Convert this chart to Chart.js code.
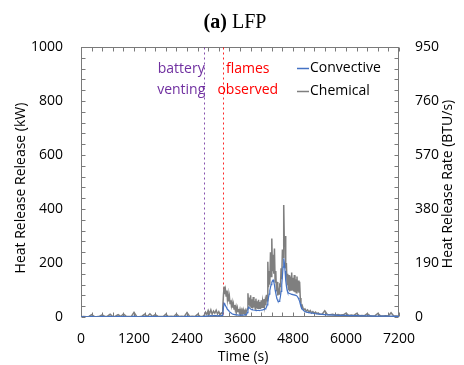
<!DOCTYPE html>
<html>
<head>
<meta charset="utf-8">
<script src="https://cdn.jsdelivr.net/npm/chart.js@4/dist/chart.umd.min.js"></script>
<style>
  html, body { margin: 0; padding: 0; background: #fff; }
  canvas { display: block; }
</style>
</head>
<body>
<canvas id="hrr" width="464" height="365"></canvas>
<script>
// Time stamps of the heat release record (s)
const timeSeconds = [
  0,60,120,180,240,300,360,420,480,540,
  600,660,720,780,840,900,960,1020,1080,1140,
  1200,1260,1320,1380,1440,1500,1560,1620,1680,1740,
  1800,1860,1920,1980,2040,2100,2160,2220,2280,2340,
  2400,2460,2520,2580,2640,2700,2760,
  2790,2820,2850,2880,2910,2940,2970,3000,3030,3060,
  3090,3120,3150,3180,
  3195,3210,3225,3240,3255,3270,3285,3300,3315,3330,
  3345,3360,3375,3390,3405,3420,3435,3450,3465,3480,
  3495,3510,3525,3540,3555,3570,3585,3600,3615,3630,
  3645,3660,3675,3690,3705,3720,3735,3750,3765,3780,
  3795,3810,3825,3840,3855,3870,3885,3900,3915,3930,
  3945,3960,3975,3990,4005,4020,4035,4050,4065,4080,
  4095,4110,4125,4140,4155,4170,4185,4200,4215,4230,
  4245,4260,4275,4290,4305,4320,4335,4350,4365,4380,
  4395,4410,4425,4440,4455,4470,4485,4500,4515,4530,
  4545,4560,4575,4590,4605,4620,4635,4650,4665,4680,
  4695,4710,4725,4740,4755,4770,4785,4800,4815,4830,
  4845,4860,4875,4890,4905,4920,4935,4950,4965,4980,
  4995,5010,
  5040,5070,5100,5130,5160,5190,5220,5250,5280,5310,
  5340,5370,5400,
  5460,5520,5580,5640,5700,5760,5820,5880,5940,6000,
  6060,6120,6180,6240,6300,6360,6420,6480,6540,6600,
  6660,6720,6780,6840,6900,6960,7020,7080,7140,7200
];

// Chemical heat release rate (kW)
const chemicalKW = [
  1,2,1,2,9,2,1,3,8,2,
  3,10,2,3,9,2,11,3,2,2,
  17,2,1,3,10,2,12,2,9,3,
  2,2,10,2,3,2,11,2,3,2,
  16,2,3,2,10,2,3,
  6,18,9,24,12,26,10,22,14,25,
  11,20,9,15,
  12,35,80,113,85,100,78,98,65,84,
  58,76,50,62,42,55,35,48,30,44,
  26,38,22,34,20,30,17,28,15,25,
  14,24,13,22,14,24,15,22,30,88,
  45,72,38,80,36,66,32,74,35,60,
  30,68,34,58,30,64,32,56,30,62,
  34,58,36,66,40,60,44,82,60,205,
  110,170,120,240,150,291,170,230,160,254,
  130,170,95,130,80,100,85,125,110,180,
  140,250,220,415,260,300,180,200,120,160,
  100,155,95,150,100,165,98,145,95,155,
  92,140,90,150,95,135,90,130,70,48,
  36,42,
  26,30,22,26,18,24,15,20,14,18,
  12,15,11,
  10,23,9,8,10,7,9,7,8,14,
  6,7,6,13,5,6,5,12,5,4,
  5,13,4,4,5,4,16,4,4,3
];

// Convective heat release rate (kW)
const convectiveKW = [
  1,1,1,1,2,1,1,1,2,1,
  1,2,1,1,2,1,2,1,1,1,
  3,1,1,1,2,1,2,1,2,1,
  1,1,2,1,1,1,2,1,1,1,
  3,1,1,1,2,1,1,
  2,3,3,4,4,5,4,5,5,5,
  4,5,4,5,
  5,10,35,51,48,42,38,33,29,26,
  23,20,18,16,14,12,11,10,10,9,
  9,8,8,8,7,7,7,7,7,7,
  7,7,7,7,8,8,9,10,16,30,
  36,34,32,30,28,27,27,26,26,25,
  25,24,24,24,24,25,24,24,25,25,
  26,26,27,28,29,30,33,36,45,60,
  72,85,98,110,120,128,134,137,130,118,
  100,88,76,66,60,57,58,62,75,95,
  120,150,185,217,200,170,135,115,100,92,
  90,88,87,86,85,84,84,83,82,82,
  81,80,79,78,74,70,64,58,48,40,
  34,30,
  24,20,18,17,16,15,14,14,13,12,
  12,11,11,
  10,9,8,8,7,7,6,6,6,6,
  5,5,5,5,4,4,4,4,4,3,
  3,3,3,3,3,3,3,2,2,2
];

const seriesNames = ['Convective', 'Chemical'];
const timeTicks = [0, 1200, 2400, 3600, 4800, 6000, 7200];
const kwTicks = [0, 200, 400, 600, 800, 1000];
const btuTicks = [0, 190, 380, 570, 760, 950];

// Observed events during the test (s)
const eventTimes = [2790, 3210];
const eventLabels = [['battery', 'venting'], ['flames', 'observed']];
const eventColors = ['#7030A0', '#FF0000'];

const UI_FONT = "'Open Sans', 'Noto Sans', sans-serif";
const TEXT_COLOR = '#000000';
const FRAME_COLOR = '#7a7a7a';
const MINOR_TIME_STEP = 240;
const MINOR_KW_STEP = 40;

const frameAndNotes = {
  id: 'frameAndNotes',
  beforeDatasetsDraw(chart) {
    const { ctx, chartArea: a, scales } = chart;
    const L = Math.round(a.left) + 0.5, R = Math.round(a.right) - 0.5;
    const T = Math.round(a.top) + 0.5, B = Math.round(a.bottom) - 0.5;
    ctx.save();
    ctx.strokeStyle = FRAME_COLOR;
    ctx.lineWidth = 1;
    ctx.strokeRect(L, T, R - L, B - T);
    ctx.beginPath();
    for (let v = 0; v <= 7200; v += MINOR_TIME_STEP) {
      const x = Math.round(scales.x.getPixelForValue(v)) + 0.5;
      ctx.moveTo(x, T); ctx.lineTo(x, T + 4);
      ctx.moveTo(x, B); ctx.lineTo(x, B - 4);
    }
    for (let v = 0; v <= 1000; v += MINOR_KW_STEP) {
      const y = Math.round(scales.y.getPixelForValue(v)) + 0.5;
      ctx.moveTo(L, y); ctx.lineTo(L + 4, y);
      ctx.moveTo(R, y); ctx.lineTo(R - 4, y);
    }
    ctx.stroke();

    // event markers
    eventTimes.forEach((t, i) => {
      const x = Math.round(scales.x.getPixelForValue(t)) + 0.5;
      ctx.beginPath();
      ctx.strokeStyle = eventColors[i];
      ctx.globalAlpha = 0.85;
      ctx.setLineDash([2, 3]);
      ctx.moveTo(x, T); ctx.lineTo(x, B);
      ctx.stroke();
    });
    ctx.restore();
  },
  afterDraw(chart) {
    const { ctx, scales } = chart;
    ctx.save();

    // title: bold "(a)" followed by regular "LFP"
    const boldF = "bold 20px 'Liberation Serif', 'Times New Roman', serif";
    const normF = "20px 'Liberation Serif', 'Times New Roman', serif";
    ctx.fillStyle = TEXT_COLOR;
    ctx.textBaseline = 'alphabetic';
    ctx.textAlign = 'left';
    ctx.font = boldF;
    const w1 = ctx.measureText('(a)').width;
    ctx.font = normF;
    const w2 = ctx.measureText(' LFP').width;
    const tx = 235 - (w1 + w2) / 2;
    ctx.font = boldF;
    ctx.fillText('(a)', tx, 28);
    ctx.font = normF;
    ctx.fillText(' LFP', tx + w1, 28);

    // axis titles
    ctx.font = `14px ${UI_FONT}`;
    ctx.textAlign = 'center';
    ctx.textBaseline = 'middle';
    ctx.fillText('Time (s)', 243, 357);
    ctx.save();
    ctx.translate(21, 188);
    ctx.rotate(-Math.PI / 2);
    ctx.fillText('Heat Release Release (kW)', 0, 0);
    ctx.restore();
    ctx.save();
    ctx.translate(448, 184);
    ctx.rotate(-Math.PI / 2);
    ctx.fillText('Heat Release Rate (BTU/s)', 0, 0);
    ctx.restore();

    // event captions
    const offsets = [-23, 25];
    eventTimes.forEach((t, i) => {
      const x = scales.x.getPixelForValue(t) + offsets[i];
      ctx.fillStyle = eventColors[i];
      eventLabels[i].forEach((line, j) => ctx.fillText(line, x, 69 + j * 21));
    });

    // legend
    ctx.textAlign = 'left';
    ctx.fillStyle = TEXT_COLOR;
    chart.data.datasets.forEach((ds, i) => {
      const y = 68 + i * 23;
      ctx.beginPath();
      ctx.strokeStyle = ds.borderColor;
      ctx.lineWidth = 1.5;
      ctx.moveTo(297, y + 0.5); ctx.lineTo(309, y + 0.5);
      ctx.stroke();
      ctx.fillText(ds.label, 310, y);
    });
    ctx.restore();
  }
};

const tickFont = { family: UI_FONT, size: 14 };
const asText = v => String(v);

new Chart(document.getElementById('hrr'), {
  type: 'line',
  data: {
    datasets: [
      {
        label: seriesNames[0],
        data: timeSeconds.map((t, i) => ({ x: t, y: convectiveKW[i] })),
        borderColor: '#4472C4',
        borderWidth: 1.2,
        pointRadius: 0,
        tension: 0,
        yAxisID: 'y'
      },
      {
        label: seriesNames[1],
        data: timeSeconds.map((t, i) => ({ x: t, y: chemicalKW[i] })),
        borderColor: '#7f7f7f',
        borderWidth: 1.5,
        pointRadius: 0,
        tension: 0,
        yAxisID: 'y'
      }
    ]
  },
  options: {
    responsive: false,
    animation: false,
    events: [],
    layout: { padding: { top: 47, left: 0, right: 0, bottom: 0 } },
    plugins: { legend: { display: false }, title: { display: false }, tooltip: { enabled: false } },
    scales: {
      x: {
        type: 'linear', position: 'bottom', min: 0, max: 7200,
        afterBuildTicks: s => { s.ticks = timeTicks.map(v => ({ value: v })); },
        afterFit: s => { s.height = 48; },
        grid: { display: false, drawTicks: false },
        border: { display: false },
        ticks: { padding: 14, font: tickFont, color: TEXT_COLOR, maxRotation: 0, autoSkip: false, callback: asText }
      },
      y: {
        type: 'linear', position: 'left', min: 0, max: 1000,
        afterBuildTicks: s => { s.ticks = kwTicks.map(v => ({ value: v })); },
        afterFit: s => { s.width = 81; },
        grid: { display: false, drawTicks: false },
        border: { display: false },
        ticks: { padding: 18, font: tickFont, color: TEXT_COLOR, autoSkip: false, callback: asText }
      },
      y2: {
        type: 'linear', position: 'right', min: 0, max: 950,
        afterBuildTicks: s => { s.ticks = btuTicks.map(v => ({ value: v })); },
        afterFit: s => { s.width = 65; },
        grid: { display: false, drawTicks: false },
        border: { display: false },
        ticks: { padding: 16, font: tickFont, color: TEXT_COLOR, autoSkip: false, callback: asText }
      }
    }
  },
  plugins: [frameAndNotes]
});
</script>
</body>
</html>
